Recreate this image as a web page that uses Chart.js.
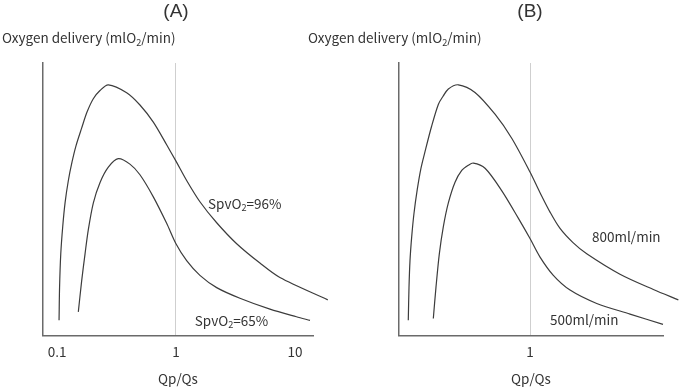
<!DOCTYPE html>
<html>
<head>
<meta charset="utf-8">
<script src="https://cdn.jsdelivr.net/npm/chart.js@4.4.1/dist/chart.umd.min.js"></script>
<style>
  html, body { margin: 0; padding: 0; background: #fff; }
  #wrap { position: relative; width: 680px; height: 387px; overflow: hidden; }
  .panel { position: absolute; top: 0; height: 387px; }
  #panelA { left: 0; width: 340px; }
  #panelB { left: 300px; width: 380px; }
</style>
</head>
<body>
<div id="wrap">
  <div class="panel" id="panelA"><canvas id="chartA" width="340" height="387"></canvas></div>
  <div class="panel" id="panelB"><canvas id="chartB" width="380" height="387"></canvas></div>
</div>
<script>
// --- data (x = Qp/Qs, log scale; y = relative O2 delivery 0..100) ---

// panel (A): SpvO2 = 96% / 65%
const aHighX = [0.104, 0.105, 0.1075, 0.1117, 0.1168, 0.1245, 0.1337, 0.1445, 0.161, 0.1787, 0.2018, 0.2298, 0.270, 0.385, 0.498, 0.645, 0.835, 1.0, 1.23, 1.59, 2.20, 3.24, 5.08, 7.48, 18.9];
const aHighY = [5.6, 17.6, 30.0, 40.1, 48.7, 56.9, 63.7, 69.7, 76.1, 82.0, 86.9, 89.9, 92.0, 89.1, 84.6, 78.3, 70.0, 64.0, 56.9, 49.1, 41.4, 33.7, 26.6, 21.3, 13.1];
const aLowX = [0.151, 0.161, 0.172, 0.183, 0.202, 0.230, 0.270, 0.327, 0.410, 0.498, 0.645, 0.835, 1.0, 1.23, 1.59, 2.20, 3.45, 6.17, 10.3, 13.4];
const aLowY = [8.7, 20.0, 30.0, 38.7, 48.7, 56.2, 61.8, 64.9, 62.9, 59.0, 50.9, 41.2, 33.7, 27.5, 22.1, 17.6, 13.7, 9.7, 6.9, 5.6];

// panel (B): 800 / 500 ml/min
const bHighX = [0.0949, 0.0962, 0.0981, 0.1014, 0.106, 0.113, 0.121, 0.131, 0.149, 0.170, 0.186, 0.206, 0.250, 0.345, 0.508, 0.702, 1.0, 1.214, 1.473, 1.787, 2.297, 2.995, 5.70, 10.87, 17.63];
const bHighY = [5.6, 17.5, 27.5, 36.3, 44.9, 53.7, 61.2, 67.4, 76.8, 84.9, 87.8, 90.5, 92.0, 89.2, 81.2, 72.4, 60.0, 52.4, 45.3, 39.3, 34.1, 30.0, 22.5, 16.9, 13.1];
const bLowX = [0.154, 0.162, 0.173, 0.187, 0.206, 0.234, 0.267, 0.303, 0.334, 0.419, 0.578, 0.797, 1.0, 1.214, 1.570, 2.169, 3.634, 6.92, 13.1];
const bLowY = [6.3, 17.5, 30.0, 40.0, 48.7, 56.2, 60.6, 62.5, 63.3, 61.4, 53.2, 43.1, 35.6, 28.8, 22.1, 16.7, 11.8, 7.9, 4.1];

const aTicks = [0.1, 1, 10];
const bTicks = [1];

const aNotes = [
  { text: "SpvO₂=96%", x: 1.86, y: 48.4 },
  { text: "SpvO₂=65%", x: 1.44, y: 5.4 },
];
const bNotes = [
  { text: "800ml/min", x: 3.32, y: 36.3 },
  { text: "500ml/min", x: 1.47, y: 5.6 },
];

const Y_LABEL = "Oxygen delivery (mlO₂/min)";
const X_LABEL = "Qp/Qs";

const FAMILY = '"Noto Sans CJK JP", "Noto Sans", sans-serif';
const TEXT_SIZE = 13.5;
const TEXT_COLOR = "#333";
const LINE_COLOR = "#3c3c3c";
const AXIS_COLOR = "#6a6a6a";

// draws text, turning "₂" into a small lowered "2"
function drawSub(ctx, text, x, y, size) {
  const parts = text.split("₂");
  let cx = x;
  parts.forEach((p, i) => {
    ctx.font = size + "px " + FAMILY;
    ctx.fillText(p, cx, y);
    cx += ctx.measureText(p).width;
    if (i < parts.length - 1) {
      ctx.font = (size * 0.68) + "px " + FAMILY;
      ctx.fillText("2", cx, y + size * 0.3);
      cx += ctx.measureText("2").width;
    }
  });
}

const overlay = {
  id: "overlay",
  afterDraw(chart, args, opts) {
    const { ctx, chartArea, scales } = chart;
    ctx.save();
    ctx.fillStyle = TEXT_COLOR;
    ctx.textBaseline = "middle";

    ctx.font = '19px "Liberation Sans", Arial, sans-serif';
    ctx.textAlign = "center";
    ctx.fillText(opts.letter, scales.x.getPixelForValue(1), chartArea.top - 51);

    ctx.textAlign = "left";
    drawSub(ctx, Y_LABEL, chartArea.left - opts.yLabelShift, chartArea.top - 25, TEXT_SIZE);

    for (const n of opts.notes) {
      drawSub(ctx, n.text, scales.x.getPixelForValue(n.x), scales.y.getPixelForValue(n.y), TEXT_SIZE);
    }
    ctx.restore();
  },
};

function series(xs, ys) {
  return {
    data: xs.map((v, i) => ({ x: v, y: ys[i] })),
    borderColor: LINE_COLOR,
    borderWidth: 1.2,
    pointRadius: 0,
    tension: 0.3,
    clip: false,
    fill: false,
  };
}

function makeChart(id, cfg) {
  const font = { family: FAMILY, size: TEXT_SIZE };
  return new Chart(document.getElementById(id), {
    type: "line",
    data: { datasets: cfg.datasets },
    options: {
      responsive: false,
      animation: false,
      events: [],
      layout: { padding: { left: cfg.padLeft, right: cfg.padRight, top: 63, bottom: 0 } },
      plugins: {
        legend: { display: false },
        tooltip: { enabled: false },
        overlay: { letter: cfg.letter, yLabelShift: cfg.yLabelShift, notes: cfg.notes },
      },
      scales: {
        x: {
          type: "logarithmic",
          min: cfg.min,
          max: cfg.max,
          bounds: "data",
          afterBuildTicks: (s) => { s.ticks = cfg.ticks.map((v) => ({ value: v })); },
          ticks: { font, color: TEXT_COLOR, padding: 8, autoSkip: false, maxRotation: 0, callback: (v) => String(v) },
          grid: {
            display: true,
            drawTicks: false,
            lineWidth: 1,
            color: (c) => (c.tick && c.tick.value === 1 ? "#cfcfcf" : "rgba(0,0,0,0)"),
          },
          border: { display: true, color: AXIS_COLOR, width: 1.5 },
          title: { display: true, text: X_LABEL, font, color: TEXT_COLOR, padding: { top: 3, bottom: 0 } },
        },
        y: {
          min: 0,
          max: 100,
          ticks: { display: false },
          grid: { display: false, drawTicks: false },
          border: { display: true, color: AXIS_COLOR, width: 1.5 },
        },
      },
    },
    plugins: [overlay],
  });
}

makeChart("chartA", {
  letter: "(A)",
  datasets: [series(aHighX, aHighY), series(aLowX, aLowY)],
  min: 0.0762, max: 14.2,
  ticks: aTicks,
  notes: aNotes,
  padLeft: 43, padRight: 27,
  yLabelShift: 41,
});

makeChart("chartB", {
  letter: "(B)",
  datasets: [series(bHighX, bHighY), series(bLowX, bLowY)],
  min: 0.0793, max: 13.1,
  ticks: bTicks,
  notes: bNotes,
  padLeft: 99, padRight: 17,
  yLabelShift: 91,
});
</script>
</body>
</html>
